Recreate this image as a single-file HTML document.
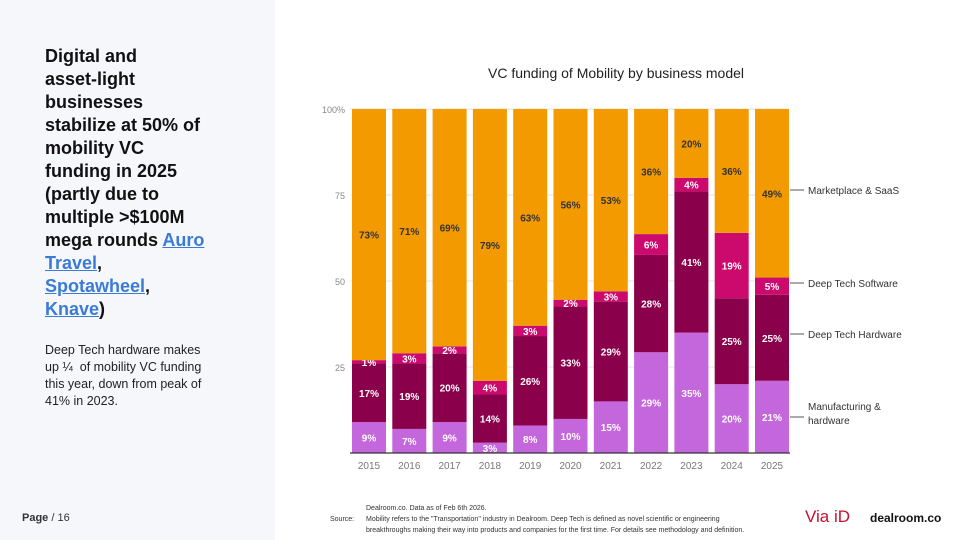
<!DOCTYPE html>
<html><head><meta charset="utf-8"><style>
body{margin:0;width:960px;height:540px;overflow:hidden;font-family:"Liberation Sans",sans-serif;background:#fff;position:relative}
#left{position:absolute;left:0;top:0;width:275px;height:540px;background:#f6f7fb}
h1{position:absolute;left:45px;top:45px;margin:0;font-size:18px;line-height:23px;font-weight:bold;color:#111;white-space:nowrap}
h1 a{color:#3a7bd5}
#sub{position:absolute;left:45px;top:342px;font-size:12.5px;line-height:17px;color:#222;white-space:nowrap}
#page{position:absolute;left:22px;top:512px;font-size:11px;color:#333}
#src{position:absolute;left:330px;top:503px;font-size:7px;line-height:11px;color:#333}
#via{position:absolute;left:805px;top:507px;font-size:17px;color:#c8102e}
#dr{position:absolute;left:870px;top:511px;font-size:12px;font-weight:bold;color:#111}
</style></head><body>
<div id="left"></div>
<h1>Digital and<br>asset-light<br>businesses<br>stabilize at 50% of<br>mobility VC<br>funding in 2025<br>(partly due to<br>multiple &gt;$100M<br>mega rounds <a href="#">Auro</a><br><a href="#">Travel</a>,<br><a href="#">Spotawheel</a>,<br><a href="#">Knave</a>)</h1>
<div id="sub">Deep Tech hardware makes<br>up ¼&nbsp; of mobility VC funding<br>this year, down from peak of<br>41% in 2023.</div>
<div id="page"><b>Page</b> / 16</div>
<div id="src"><span style="position:absolute;left:0;top:11px">Source:</span><div style="margin-left:36px">Dealroom.co. Data as of Feb 6th 2026.<br>Mobility refers to the "Transportation" industry in Dealroom. Deep Tech is defined as novel scientific or engineering<br>breakthroughs making their way into products and companies for the first time. For details see methodology and definition.</div></div>
<div id="via">Via iD</div>
<div id="dr">dealroom.co</div>
<svg id="chart" width="960" height="540" style="position:absolute;left:0;top:0"></svg>
<script>
const years=["2015","2016","2017","2018","2019","2020","2021","2022","2023","2024","2025"];
const mfg=[9,7,9,3,8,10,15,29,35,20,21];
const dth=[17,19,20,14,26,33,29,28,41,25,25];
const dts=[1,3,2,4,3,2,3,6,4,19,5];
const saas=[73,71,69,79,63,56,53,36,20,36,49];
const yTicks=[25,50,75,100];
const series=[{v:mfg,c:"#c466dc",t:"#fff",n:"mfg"},{v:dth,c:"#8a004a",t:"#fff",n:"dth"},{v:dts,c:"#cc0a6e",t:"#fff",n:"dts"},{v:saas,c:"#f29a00",t:"#333",n:"saas"}];
const svg=document.getElementById('chart');const NS="http://www.w3.org/2000/svg";
const y0=453,y1=109,x0=352,step=40.3,bw=34;
const Y=v=>y0-(y0-y1)*v/100;const X=i=>x0+i*step;
function mk(t,a,p){const e=document.createElementNS(NS,t);for(const k in a)e.setAttribute(k,a[k]);(p||svg).appendChild(e);return e;}
let t=mk('text',{x:616,y:78,'text-anchor':'middle','font-size':14,fill:'#222'});t.textContent="VC funding of Mobility by business model";


yTicks.forEach(v=>{const l=mk('line',{x1:350,x2:790,y1:Y(v),y2:Y(v),stroke:'#e4e4e4'});


const tx=mk('text',{x:345,y:Y(v)+4,'text-anchor':'end','font-size':9,fill:'#888'});tx.textContent=v==100?"100%":v;

});
years.forEach((yr,i)=>{const tot=series.reduce((s,se)=>s+se.v[i],0);let acc=0;
series.forEach(se=>{const v=se.v[i]*100/tot;const r=mk('rect',{x:X(i),y:Y(acc+v),width:bw,height:Y(acc)-Y(acc+v),fill:se.c});


const tx=mk('text',{x:X(i)+bw/2,y:(Y(acc)+Y(acc+v))/2+4,'text-anchor':'middle','font-size':10,'font-weight':'bold',fill:se.t});tx.textContent=se.v[i]+"%";


acc+=v;});
const lb=mk('text',{x:X(i)+bw/2,y:469,'text-anchor':'middle','font-size':10,fill:'#777'});lb.textContent=yr;

});
const ax=mk('line',{x1:350,x2:790,y1:y0,y2:y0,stroke:'#333','stroke-width':1.2});


[["Marketplace & SaaS",194],["Deep Tech Software",287],["Deep Tech Hardware",338],["Manufacturing &",410],["hardware",424]].forEach((d,k)=>{
if(k<4){const l=mk('line',{x1:790,x2:804,y1:k==3?417:d[1]-4,y2:k==3?417:d[1]-4,stroke:'#555'});

}
const tx=mk('text',{x:808,y:d[1],'font-size':10,fill:'#333'});tx.textContent=d[0];

});
</script>
</body></html>
